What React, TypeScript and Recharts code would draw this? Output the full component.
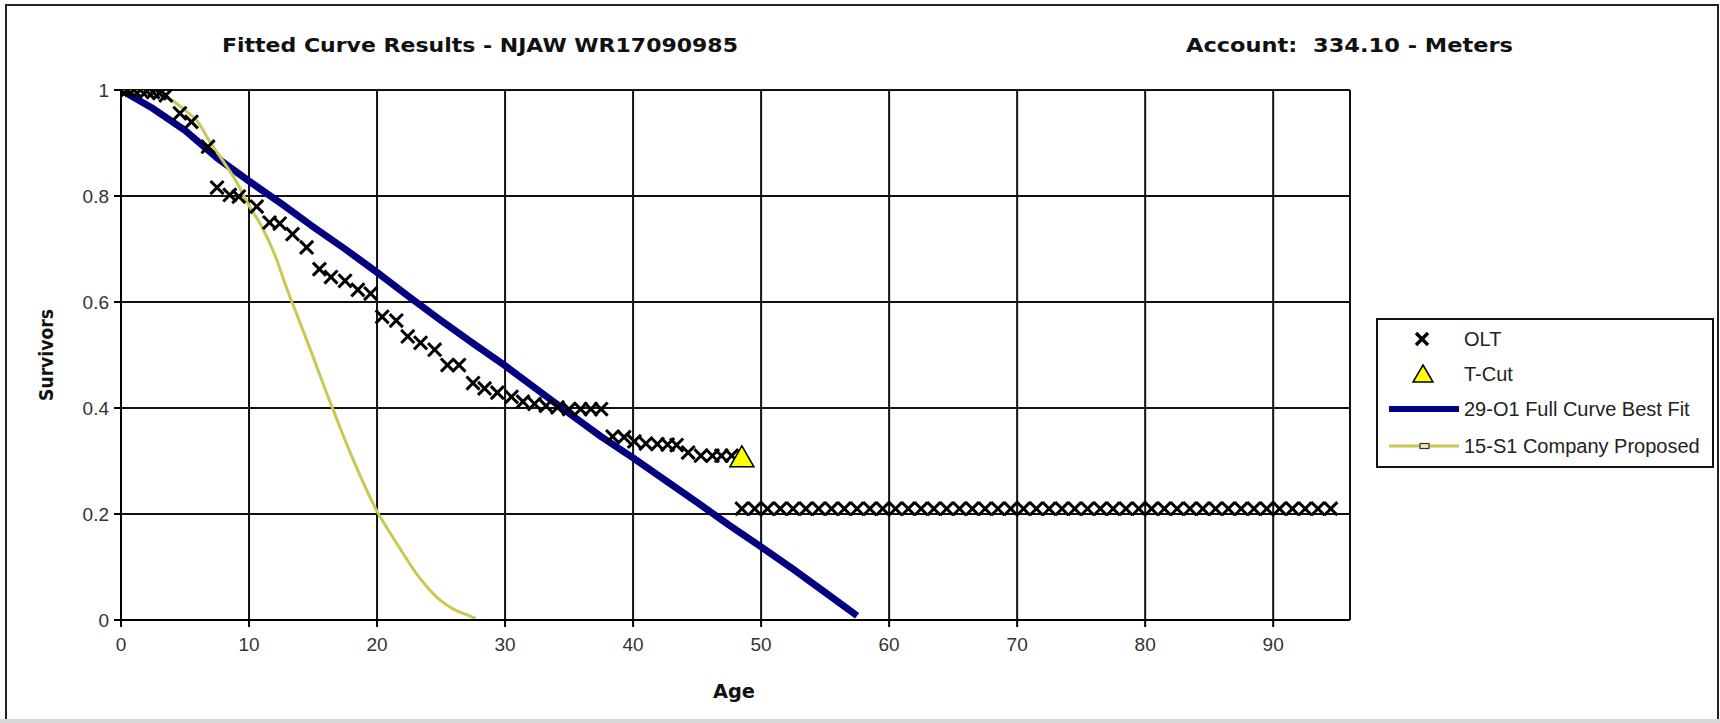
import React from "react";
import {
  CartesianGrid,
  ComposedChart,
  Line,
  ReferenceLine,
  Scatter,
  XAxis,
  YAxis
} from "recharts";

// values
const ageTicks = [0, 10, 20, 30, 40, 50, 60, 70, 80, 90];
const survivorTicks = [0, 0.2, 0.4, 0.6, 0.8, 1];

const oltAges = [
  0, 0.5, 1, 1.5, 2, 2.5, 3, 3.5, 4.6, 5.5, 6.8, 7.5, 8.5, 9.2, 10.6, 11.6, 12.4,
  13.4, 14.5, 15.5, 16.4, 17.5, 18.5, 19.5, 20.4, 21.5, 22.4, 23.4, 24.5, 25.5,
  26.4, 27.5, 28.4, 29.4, 30.5, 31.4, 32.3, 33.2, 34.1, 35.0, 35.9, 36.7, 37.5,
  38.4, 39.3, 40.1, 41.0, 41.9, 42.7, 43.4, 44.3, 45.3, 46.2, 46.9, 47.7,
  48.5, 49.5, 50.5, 51.5, 52.5, 53.5, 54.5, 55.5, 56.5, 57.5, 58.5, 59.5, 60.5,
  61.5, 62.5, 63.5, 64.5, 65.5, 66.5, 67.5, 68.5, 69.5, 70.5, 71.5, 72.5, 73.5,
  74.5, 75.5, 76.5, 77.5, 78.5, 79.5, 80.5, 81.5, 82.5, 83.5, 84.5, 85.5, 86.5,
  87.5, 88.5, 89.5, 90.5, 91.5, 92.5, 93.5, 94.5
];
const oltSurvivors = [
  1, 1, 1, 1, 0.998, 0.996, 0.994, 0.99, 0.956, 0.94, 0.893, 0.816, 0.802, 0.799,
  0.78, 0.75, 0.748, 0.728, 0.703, 0.662, 0.647, 0.64, 0.623, 0.616, 0.572,
  0.565, 0.535, 0.523, 0.51, 0.481, 0.481, 0.447, 0.437, 0.429, 0.421, 0.412,
  0.408, 0.404, 0.401, 0.398, 0.398, 0.398, 0.398, 0.346, 0.345, 0.337, 0.333,
  0.332, 0.331, 0.33, 0.316, 0.31, 0.31, 0.31, 0.31,
  0.21, 0.21, 0.21, 0.21, 0.21, 0.21, 0.21, 0.21, 0.21, 0.21, 0.21, 0.21, 0.21,
  0.21, 0.21, 0.21, 0.21, 0.21, 0.21, 0.21, 0.21, 0.21, 0.21, 0.21, 0.21, 0.21,
  0.21, 0.21, 0.21, 0.21, 0.21, 0.21, 0.21, 0.21, 0.21, 0.21, 0.21, 0.21, 0.21,
  0.21, 0.21, 0.21, 0.21, 0.21, 0.21, 0.21, 0.21
];

const tCutAges = [48.5];
const tCutSurvivors = [0.308];

const fitAges = [
  0, 2.5, 5, 7.5, 10, 12.5, 15, 17.5, 20, 22.5, 25, 27.5, 30, 32.5, 35, 37.5, 40,
  42.5, 45, 47.5, 50, 52.5, 55, 57.5
];
const fitSurvivors = [
  1, 0.965, 0.924, 0.872, 0.828, 0.786, 0.742, 0.7, 0.656, 0.61, 0.565, 0.522,
  0.48, 0.435, 0.39, 0.346, 0.306, 0.264, 0.222, 0.179, 0.138, 0.096, 0.052, 0.008
];

const proposedAges = [
  0, 1, 2, 3, 4, 5, 6, 7, 8, 9, 10, 11, 12, 13, 14, 15, 16, 17, 18, 19, 20, 21,
  22, 23, 24, 25, 26, 27, 27.7
];
const proposedSurvivors = [
  1, 1, 0.998, 0.99, 0.98, 0.962, 0.94, 0.9, 0.865, 0.828, 0.782, 0.742, 0.69,
  0.622, 0.56, 0.497, 0.432, 0.37, 0.31, 0.255, 0.205, 0.165, 0.127, 0.09, 0.06,
  0.036, 0.02, 0.01, 0.003
];

const SERIES = {
  olt: "OLT",
  tcut: "T-Cut",
  fit: "29-O1 Full Curve Best Fit",
  proposed: "15-S1 Company Proposed"
};

const NAVY = "#000080";
const OLIVE = "#c8c852";
const TEXT_FONT = '"Liberation Sans", Arial, sans-serif';
const BOLD_FONT = '"DejaVu Sans", Verdana, sans-serif';

const toRows = (xs: number[], ys: number[]) => xs.map((x, i) => ({ x, y: ys[i] }));

const oltData = toRows(oltAges, oltSurvivors);
const tCutData = toRows(tCutAges, tCutSurvivors);
const fitData = toRows(fitAges, fitSurvivors);
const proposedData = toRows(proposedAges, proposedSurvivors);

function CrossMark(props: any) {
  const { cx, cy } = props;
  const r = 5.5;
  return (
    <g stroke="#000" strokeWidth={3} strokeLinecap="square">
      <line x1={cx - r} y1={cy - r} x2={cx + r} y2={cy + r} />
      <line x1={cx - r} y1={cy + r} x2={cx + r} y2={cy - r} />
    </g>
  );
}

function TriangleMark(props: any) {
  const { cx, cy } = props;
  return (
    <polygon
      points={`${cx},${cy - 11} ${cx + 12},${cy + 10} ${cx - 12},${cy + 10}`}
      fill="#ffff00"
      stroke="#000"
      strokeWidth={1.5}
    />
  );
}

function LegendRow({ top, kind, label }: { top: number; kind: string; label: string }) {
  return (
    <div style={{ position: "absolute", left: 9, top, height: 36, display: "flex", alignItems: "center" }}>
      <svg width={72} height={36}>
        {kind === "olt" && (
          <g stroke="#000" strokeWidth={3.4}>
            <line x1={29} y1={12} x2={41} y2={24} />
            <line x1={29} y1={24} x2={41} y2={12} />
          </g>
        )}
        {kind === "tcut" && (
          <polygon points="36,9 46,26 26,26" fill="#ffff00" stroke="#000" strokeWidth={1.5} />
        )}
        {kind === "fit" && <line x1={2} y1={18} x2={72} y2={18} stroke={NAVY} strokeWidth={6} />}
        {kind === "proposed" && (
          <g>
            <line x1={2} y1={18} x2={72} y2={18} stroke={OLIVE} strokeWidth={3} />
            <rect x={33} y={15.5} width={9} height={5} fill="#e8e8c0" stroke="#333" strokeWidth={1.2} />
          </g>
        )}
      </svg>
      <span style={{ marginLeft: 5, fontFamily: TEXT_FONT, fontSize: 20, color: "#222", whiteSpace: "nowrap" }}>
        {label}
      </span>
    </div>
  );
}

export default function App() {
  return (
    <div style={{ position: "absolute", left: 0, top: 0, width: 1720, height: 723, background: "#fff", overflow: "hidden" }}>
      <div
        style={{
          position: "absolute",
          left: 5,
          top: 4,
          width: 1714,
          height: 715,
          borderTop: "2px solid #222",
          borderLeft: "2px solid #222",
          borderRight: "2px solid #222",
          boxSizing: "border-box"
        }}
      />
      <div style={{ position: "absolute", left: 0, top: 719, width: 1720, height: 4, background: "#d8d8d8" }} />

      <ComposedChart
        width={1720}
        height={723}
        margin={{ top: 90, right: 370, bottom: 43, left: 61 }}
        style={{ position: "absolute", left: 0, top: 0 }}
      >
        <CartesianGrid stroke="#111" strokeWidth={2} />
        <XAxis
          type="number"
          dataKey="x"
          domain={[0, 96]}
          ticks={ageTicks}
          allowDataOverflow
          height={60}
          tickSize={7}
          tickMargin={11}
          axisLine={{ stroke: "#000", strokeWidth: 2 }}
          tickLine={{ stroke: "#000", strokeWidth: 2 }}
          tick={{ fontSize: 19, fill: "#333", fontFamily: TEXT_FONT }}
        />
        <YAxis
          type="number"
          dataKey="y"
          domain={[0, 1]}
          ticks={survivorTicks}
          allowDataOverflow
          width={60}
          tickSize={7}
          tickMargin={5}
          axisLine={{ stroke: "#000", strokeWidth: 2 }}
          tickLine={{ stroke: "#000", strokeWidth: 2 }}
          tick={{ fontSize: 19, fill: "#333", fontFamily: TEXT_FONT }}
        />
        <ReferenceLine x={96} stroke="#111" strokeWidth={2} />
        <Scatter name={SERIES.olt} data={oltData} shape={CrossMark} isAnimationActive={false} />
        <Line
          name={SERIES.fit}
          data={fitData}
          dataKey="y"
          type="linear"
          stroke={NAVY}
          strokeWidth={7}
          strokeLinejoin="round"
          dot={false}
          activeDot={false}
          isAnimationActive={false}
        />
        <Line
          name={SERIES.proposed}
          data={proposedData}
          dataKey="y"
          type="monotone"
          stroke={OLIVE}
          strokeWidth={3}
          dot={false}
          activeDot={false}
          isAnimationActive={false}
        />
        <Scatter name={SERIES.tcut} data={tCutData} shape={TriangleMark} isAnimationActive={false} />
      </ComposedChart>

      <svg width={1720} height={723} style={{ position: "absolute", left: 0, top: 0, pointerEvents: "none" }}>
        <text x={222} y={52} textLength={516} lengthAdjust="spacingAndGlyphs" fontFamily={BOLD_FONT} fontWeight="bold" fontSize={20} fill="#111">
          Fitted Curve Results - NJAW WR17090985
        </text>
        <text x={1186} y={52} textLength={327} lengthAdjust="spacingAndGlyphs" fontFamily={BOLD_FONT} fontWeight="bold" fontSize={20} fill="#111" style={{ whiteSpace: "pre" }}>
          {"Account:  334.10 - Meters"}
        </text>
        <text x={713} y={698} textLength={42} lengthAdjust="spacingAndGlyphs" fontFamily={BOLD_FONT} fontWeight="bold" fontSize={20} fill="#111">
          Age
        </text>
        <g transform="translate(53 355) rotate(-90)">
          <text x={0} y={0} textAnchor="middle" textLength={92} lengthAdjust="spacingAndGlyphs" fontFamily={BOLD_FONT} fontWeight="bold" fontSize={20} fill="#111">
            Survivors
          </text>
        </g>
      </svg>

      <div
        style={{
          position: "absolute",
          left: 1376,
          top: 318,
          width: 338,
          height: 150,
          border: "2px solid #111",
          boxSizing: "border-box",
          background: "#fff"
        }}
      >
        <LegendRow top={1} kind="olt" label={SERIES.olt} />
        <LegendRow top={36} kind="tcut" label={SERIES.tcut} />
        <LegendRow top={71} kind="fit" label={SERIES.fit} />
        <LegendRow top={108} kind="proposed" label={SERIES.proposed} />
      </div>
    </div>
  );
}
